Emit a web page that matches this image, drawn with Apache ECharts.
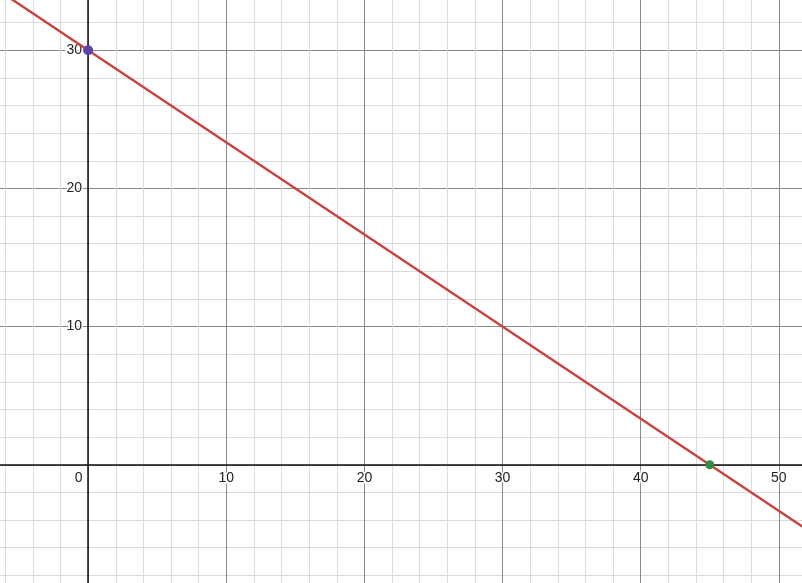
<!DOCTYPE html>
<html>
<head>
  <meta charset="utf-8">
  <title>line</title>
  <style>
    html, body { margin: 0; padding: 0; background: #fff; overflow: hidden; width: 802px; height: 583px; }
    /* chart is bigger than the window so the axis range can sit on round numbers */
    #chart { position: absolute; left: -50.4px; top: -88.1px; width: 966.7px; height: 690.5px; }
  </style>
</head>
<body>
<div id="chart"></div>
<script src="https://cdn.jsdelivr.net/npm/echarts@6/dist/echarts.min.js"></script>
<script type="text/javascript">
// points
var lineX = [-9, 0, 45, 54];
var lineY = [36, 30, 0, -6];
var pointA = [0, 30];   // purple
var pointB = [45, 0];   // green

// axis range (reaches past the window edges)
var xMin = -10, xMax = 60;
var yMin = -10, yMax = 40;
var zeroShift = -138.1;   // px from grid edge to the zero line (10 units)

var lineData = lineX.map(function (x, i) { return [x, lineY[i]]; });

var myChart = echarts.init(document.getElementById('chart'));

var labelFont = {
  color: '#222',
  fontSize: 14,
  fontFamily: 'Liberation Sans, Arial, sans-serif',
  textBorderColor: '#fff',
  textBorderWidth: 3
};

myChart.setOption({
  animation: false,
  backgroundColor: '#fff',
  grid: { left: 0, right: 0, top: 0, bottom: 0, outerBoundsMode: 'none', containLabel: false },
  xAxis: {
    type: 'value',
    position: 'bottom',
    offset: zeroShift,
    min: xMin, max: xMax, interval: 10,
    axisLine: { onZero: false, lineStyle: { color: '#111', width: 1.5 } },
    axisTick: { show: false },
    axisLabel: Object.assign({
      margin: 6,
      formatter: function (v) {
        if (v === 0) return '{z|0}';
        return String(v);
      },
      rich: { z: { fontSize: 14, fontFamily: 'Liberation Sans, Arial, sans-serif', color: '#222', padding: [0, 19, 0, 0] } }
    }, labelFont),
    splitLine: { show: true, lineStyle: { color: '#8a8a8a', width: 1 } },
    minorTick: { show: false, splitNumber: 5 },
    minorSplitLine: { show: true, lineStyle: { color: '#dcdcdc', width: 1 } }
  },
  yAxis: {
    type: 'value',
    position: 'left',
    offset: zeroShift,
    min: yMin, max: yMax, interval: 10,
    axisLine: { onZero: false, lineStyle: { color: '#111', width: 1.5 } },
    axisTick: { show: false },
    axisLabel: Object.assign({
      margin: 6,
      formatter: function (v) { return v === 0 ? '' : String(v); }
    }, labelFont),
    splitLine: { show: true, lineStyle: { color: '#8a8a8a', width: 1 } },
    minorTick: { show: false, splitNumber: 5 },
    minorSplitLine: { show: true, lineStyle: { color: '#dcdcdc', width: 1 } }
  },
  series: [
    {
      type: 'line',
      data: lineData,
      showSymbol: false,
      silent: true,
      lineStyle: { color: '#c74440', width: 2.5 },
      z: 3
    },
    {
      type: 'scatter',
      data: [pointA],
      symbolSize: 10,
      itemStyle: { color: '#6042a6', opacity: 1 },
      z: 4
    },
    {
      type: 'scatter',
      data: [pointB],
      symbolSize: 9,
      itemStyle: { color: '#388c46', opacity: 1 },
      z: 4
    }
  ]
});
</script>
</body>
</html>
